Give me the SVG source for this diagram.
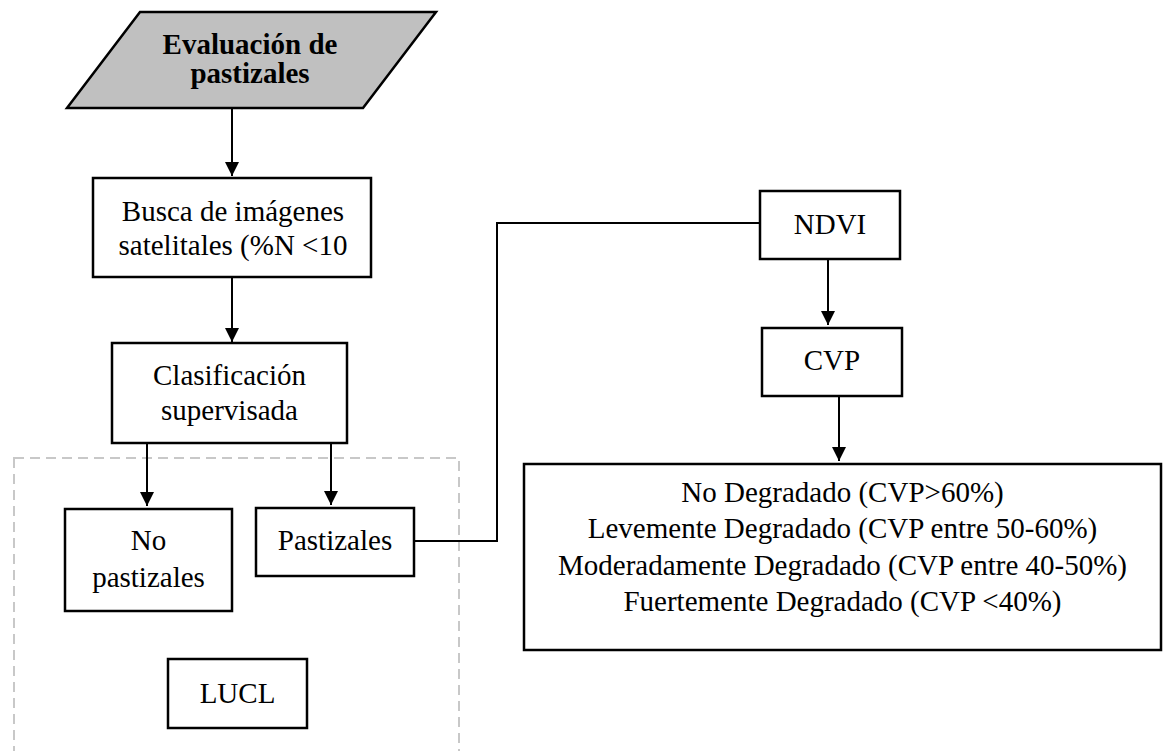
<svg xmlns="http://www.w3.org/2000/svg" width="1165" height="751" viewBox="0 0 1165 751">
  <style>
    .box { fill: #ffffff; stroke: #000000; stroke-width: 2.5; }
    .t { font-family: "Liberation Serif", "Times New Roman", serif; font-size: 29px; fill: #000000; text-anchor: middle; }
    .tb { font-weight: bold; }
    .conn { fill: none; stroke: #000000; stroke-width: 2; }
    .group { fill: none; stroke: #c8c8c8; stroke-width: 2; stroke-dasharray: 10 6; }
  </style>
  <defs>
    <marker id="arrow" markerUnits="userSpaceOnUse" markerWidth="14" markerHeight="16" viewBox="0 0 14 16" refX="14" refY="7" orient="auto">
      <path d="M0,0 L14,7 L0,14 Z" fill="#000000"/>
    </marker>
  </defs>
  <rect width="1165" height="751" fill="#ffffff"/>

  <g id="lucl-group">
    <rect class="group" x="14" y="458" width="445" height="320"/>
  </g>

  <g id="connectors">
    <line class="conn" x1="232" y1="109" x2="232" y2="176" marker-end="url(#arrow)"/>
    <line class="conn" x1="232" y1="277" x2="232" y2="342" marker-end="url(#arrow)"/>
    <line class="conn" x1="147" y1="443" x2="147" y2="506" marker-end="url(#arrow)"/>
    <line class="conn" x1="331" y1="443" x2="331" y2="505" marker-end="url(#arrow)"/>
    <polyline class="conn" points="414,541 497,541 497,223 760,223"/>
    <line class="conn" x1="828" y1="259" x2="828" y2="325" marker-end="url(#arrow)"/>
    <line class="conn" x1="839" y1="396" x2="839" y2="461" marker-end="url(#arrow)"/>
  </g>

  <g id="evaluacion">
    <polygon points="140,12 436,12 363,108 67,108" fill="#c0c0c0" stroke="#000000" stroke-width="2.5"/>
    <text class="t tb" x="250" y="54">Evaluación de</text>
    <text class="t tb" x="250" y="83">pastizales</text>
  </g>

  <g id="busca">
    <rect class="box" x="93" y="178" width="278" height="99"/>
    <text class="t" x="233" y="221">Busca de imágenes</text>
    <text class="t" x="233" y="255">satelitales (%N &lt;10</text>
  </g>

  <g id="clasificacion">
    <rect class="box" x="112" y="343" width="235" height="100"/>
    <text class="t" x="229.5" y="385">Clasificación</text>
    <text class="t" x="229.5" y="420">supervisada</text>
  </g>

  <g id="no-pastizales">
    <rect class="box" x="65" y="509" width="167" height="102"/>
    <text class="t" x="148.5" y="550">No</text>
    <text class="t" x="148.5" y="587">pastizales</text>
  </g>

  <g id="pastizales">
    <rect class="box" x="256" y="508" width="158" height="68"/>
    <text class="t" x="335" y="550">Pastizales</text>
  </g>

  <g id="lucl">
    <rect class="box" x="168" y="659" width="139" height="69"/>
    <text class="t" x="237.5" y="703">LUCL</text>
  </g>

  <g id="ndvi">
    <rect class="box" x="760" y="191" width="140" height="68"/>
    <text class="t" x="830" y="234">NDVI</text>
  </g>

  <g id="cvp">
    <rect class="box" x="762" y="328" width="140" height="68"/>
    <text class="t" x="832" y="370">CVP</text>
  </g>

  <g id="degradacion">
    <rect class="box" x="524" y="464" width="637" height="186"/>
    <text class="t" x="842.5" y="502">No Degradado (CVP&gt;60%)</text>
    <text class="t" x="842.5" y="538">Levemente Degradado (CVP entre 50-60%)</text>
    <text class="t" x="842.5" y="575">Moderadamente Degradado (CVP entre 40-50%)</text>
    <text class="t" x="842.5" y="611">Fuertemente Degradado (CVP &lt;40%)</text>
  </g>
</svg>
